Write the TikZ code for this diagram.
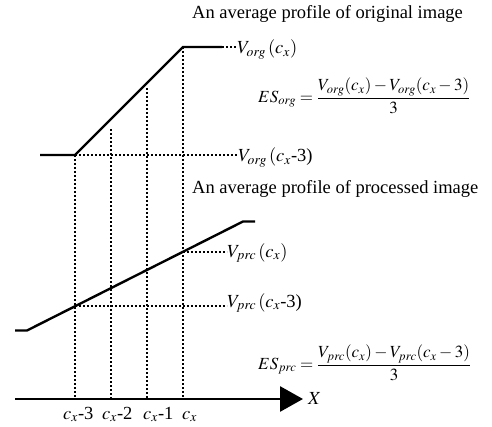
\documentclass[tikz,border=0pt]{standalone}
\usepackage{mathptmx}
\usepackage[no-math]{fontspec}
\setmainfont{Liberation Serif}
\usepackage{tikz}
\usetikzlibrary{arrows.meta,calc,positioning}

\begin{document}
\begin{tikzpicture}[x=1pt, y=1pt,
    every node/.style={font=\fontsize{18.5}{22}\selectfont, inner sep=0pt},
    formula/.style={font=\fontsize{17}{20}\selectfont},
    profile/.style={line width=2.4pt},
    dotline/.style={line width=2.3pt, dash pattern=on 2pt off 2pt},
    axisline/.style={line width=2.8pt, -{Triangle[length=23pt,width=25pt]}}]
    \useasboundingbox (0,0) rectangle (492,426);

    % Average profile of original image
    \coordinate (o0) at (40,271);
    \coordinate (o1) at (75,271);
    \coordinate (o2) at (183,379);
    \coordinate (o3) at (222,379);
    \draw[profile] (o0) -- (o1) -- (o2) -- (o3);

    % Average profile of processed image
    \coordinate (p0) at (15,95.5);
    \coordinate (p1) at (27,95.5);
    \coordinate (p2) at (243,204.5);
    \coordinate (p3) at (255,204.5);
    \draw[profile] (p0) -- (p1) -- (p2) -- (p3);
    \coordinate (q0) at ($(p1)!0.2222!(p2)$);
    \coordinate (q3) at ($(p1)!0.7222!(p2)$);

    % X axis
    \coordinate (a0) at (15,27);
    \coordinate (a1) at (303,27);
    \draw[axisline] (a0) -- (a1);
    \node[anchor=west] (xlab) at (308,28) {$X$};

    % Dotted lines down to the axis
    \foreach \n/\px/\top in {0/75/271, 1/111/297, 2/147/338, 3/183/379} {
        \coordinate (t\n) at (\px,\top);
        \draw[dotline] (t\n) -- (t\n |- a0);
    }

    % Positions on the axis
    \node[anchor=base west] (c0) at (63,7) {$c_x$-3};
    \node[anchor=base west] (c1) at (102,7) {$c_x$-2};
    \node[anchor=base west] (c2) at (143,7) {$c_x$-1};
    \node[anchor=base west] (c3) at (182,7) {$c_x$};

    % Values
    \node[anchor=base west] (vorgA) at (237,372) {$V_{org}\,(c_x)$};
    \node[anchor=base west] (vorgB) at (238,264) {$V_{org}\,(c_x$-3)};
    \node[anchor=base west] (vprcA) at (227,169) {$V_{prc}\,(c_x)$};
    \node[anchor=base west] (vprcB) at (227,119) {$V_{prc}\,(c_x$-3)};
    \draw[dotline] (o3) -- (o3 -| vorgA.west);
    \draw[dotline] (o1) -- (o1 -| vorgB.west);
    \draw[dotline] (q3) -- (q3 -| vprcA.west);
    \draw[dotline] (q0) -- (q0 -| vprcB.west);

    % Titles
    \node[anchor=base west] (torg) at (192,407.5) {An average profile of original image};
    \node[anchor=base west] (tprc) at (192,232.7) {An average profile of processed image};

    % Edge slopes
    \node[formula, anchor=west] (esorg) at (258,330)
        {$\displaystyle ES_{org}=\frac{V_{org}(c_x)-V_{org}(c_x-3)}{3}$};
    \node[formula, anchor=west] (esprc) at (258,63)
        {$\displaystyle ES_{prc}=\frac{V_{prc}(c_x)-V_{prc}(c_x-3)}{3}$};
\end{tikzpicture}
\end{document}
